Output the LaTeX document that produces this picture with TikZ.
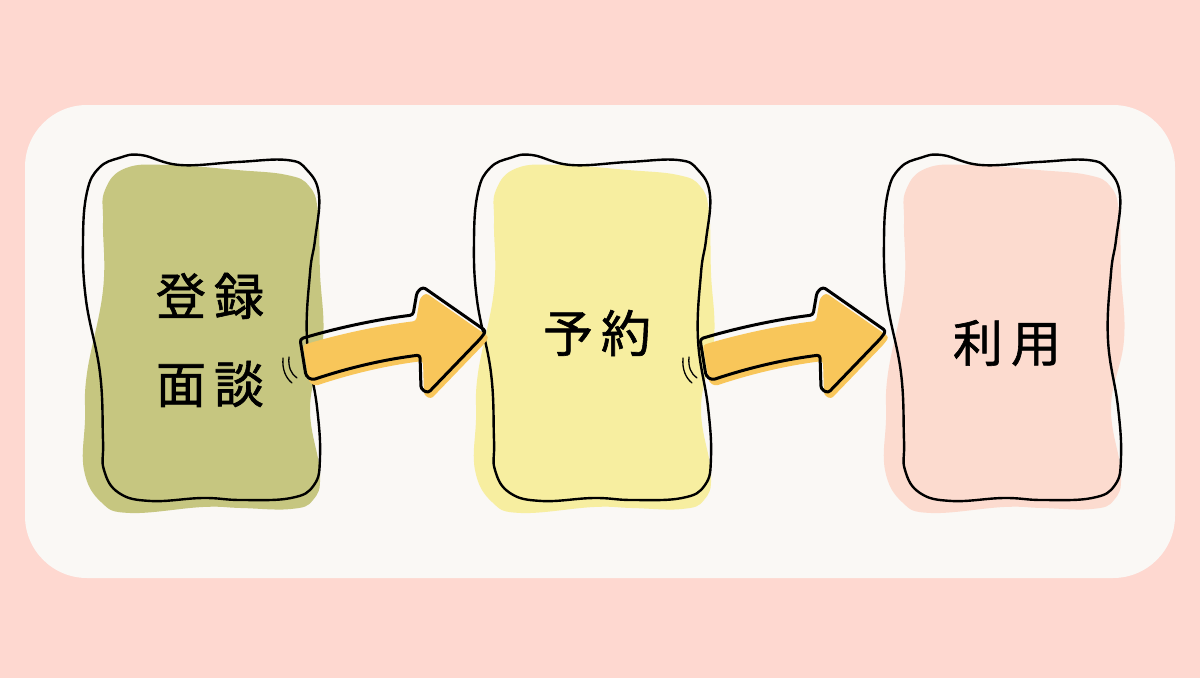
\documentclass[tikz,border=0pt]{standalone}
\usepackage{fontspec}
\newfontfamily\jp[FakeBold=1.2]{Noto Sans CJK JP}
\definecolor{bgpink}{HTML}{FED8D0}
\definecolor{panel}{HTML}{FAF8F5}
\definecolor{bgreen}{HTML}{C6C680}
\definecolor{byellow}{HTML}{F7EEA0}
\definecolor{bpink}{HTML}{FCDBCF}
\definecolor{arrowc}{HTML}{F8C65A}
\tikzset{
  outline/.style={draw=black, line width=2.4pt, line join=round},
  arrowfill/.style={fill=arrowc, rounded corners=3pt},
  arrowline/.style={draw=black, line width=3pt, line join=round, rounded corners=3pt},
  motion/.style={draw=black, line width=1.3pt, line cap=round},
  label/.style={font=\jp\fontsize{50}{88}\selectfont, align=center, inner sep=0pt}
}
\newcommand{\chargap}{\hspace{8pt}}
\newcommand{\fillblob}[2]{%
  \fill[#2, shift={(#1,0)}] plot[smooth cycle, tension=0.7] coordinates {
    (-75,168) (-31,165) (36,170) (86,175) (108,186) (117,212) (119,273) (122,340) (109,407)
    (119,473) (112,500) (90,509) (40,508) (2,507) (-71,513) (-100,502) (-117,470) (-116,420) (-114,373)
    (-98,290) (-98,223) (-96,190)};}
\newcommand{\outlineblob}[1]{%
  \draw[outline, shift={(#1,0)}] plot[smooth cycle, tension=0.7] coordinates {
    (-82,158) (-60,155) (-21,165) (36,162) (86,160) (106,170) (118,195) (114,240) (109,273)
    (106,340) (116,407) (119,457) (113,485) (90,498) (40,500) (2,498) (-50,501) (-82,493)
    (-97,470) (-98,440) (-101,373) (-115,300) (-118,240) (-114,192) (-102,168)};}
\newcommand{\arrowpath}{(300,339) .. controls (340,327) and (380,319) .. (413,315)
  -- (417,292) -- (423,287) -- (486,331) -- (481,338) -- (428,393) -- (421,389)
  -- (420,355) .. controls (380,360) and (345,369) .. (312,380) -- (306,376) -- cycle}
\begin{document}
\begin{tikzpicture}[x=1pt,y=-1pt]
\useasboundingbox (0,0) rectangle (1200,678);
\fill[bgpink] (0,0) rectangle (1200,678);
\fill[panel, rounded corners=62pt] (25,105) rectangle (1175,578);
% blobs
\fillblob{201}{bgreen}
\fillblob{592}{byellow}
\fillblob{1002}{bpink}
\outlineblob{201}
\outlineblob{592}
\outlineblob{1002}
% labels
\node[label] (t1) at (210,340) {登\chargap{}録\\面\chargap{}談};
\node[label] (t2) at (597,333) {予\chargap{}約};
\node[label] (t3) at (1007,343) {利\chargap{}用};
% arrows
\foreach \dx/\nm in {0/a1, 400/a2} {
  \begin{scope}[xshift=\dx pt]
    \fill[arrowfill, shift={(3,6)}] \arrowpath;
    \draw[arrowline] \arrowpath;
    \draw[motion] (283,358) .. controls (282,370) and (286,378) .. (292,383);
    \draw[motion] (289,357) .. controls (288,367) and (291,374) .. (297,378);
  \end{scope}
}
\end{tikzpicture}
\end{document}
